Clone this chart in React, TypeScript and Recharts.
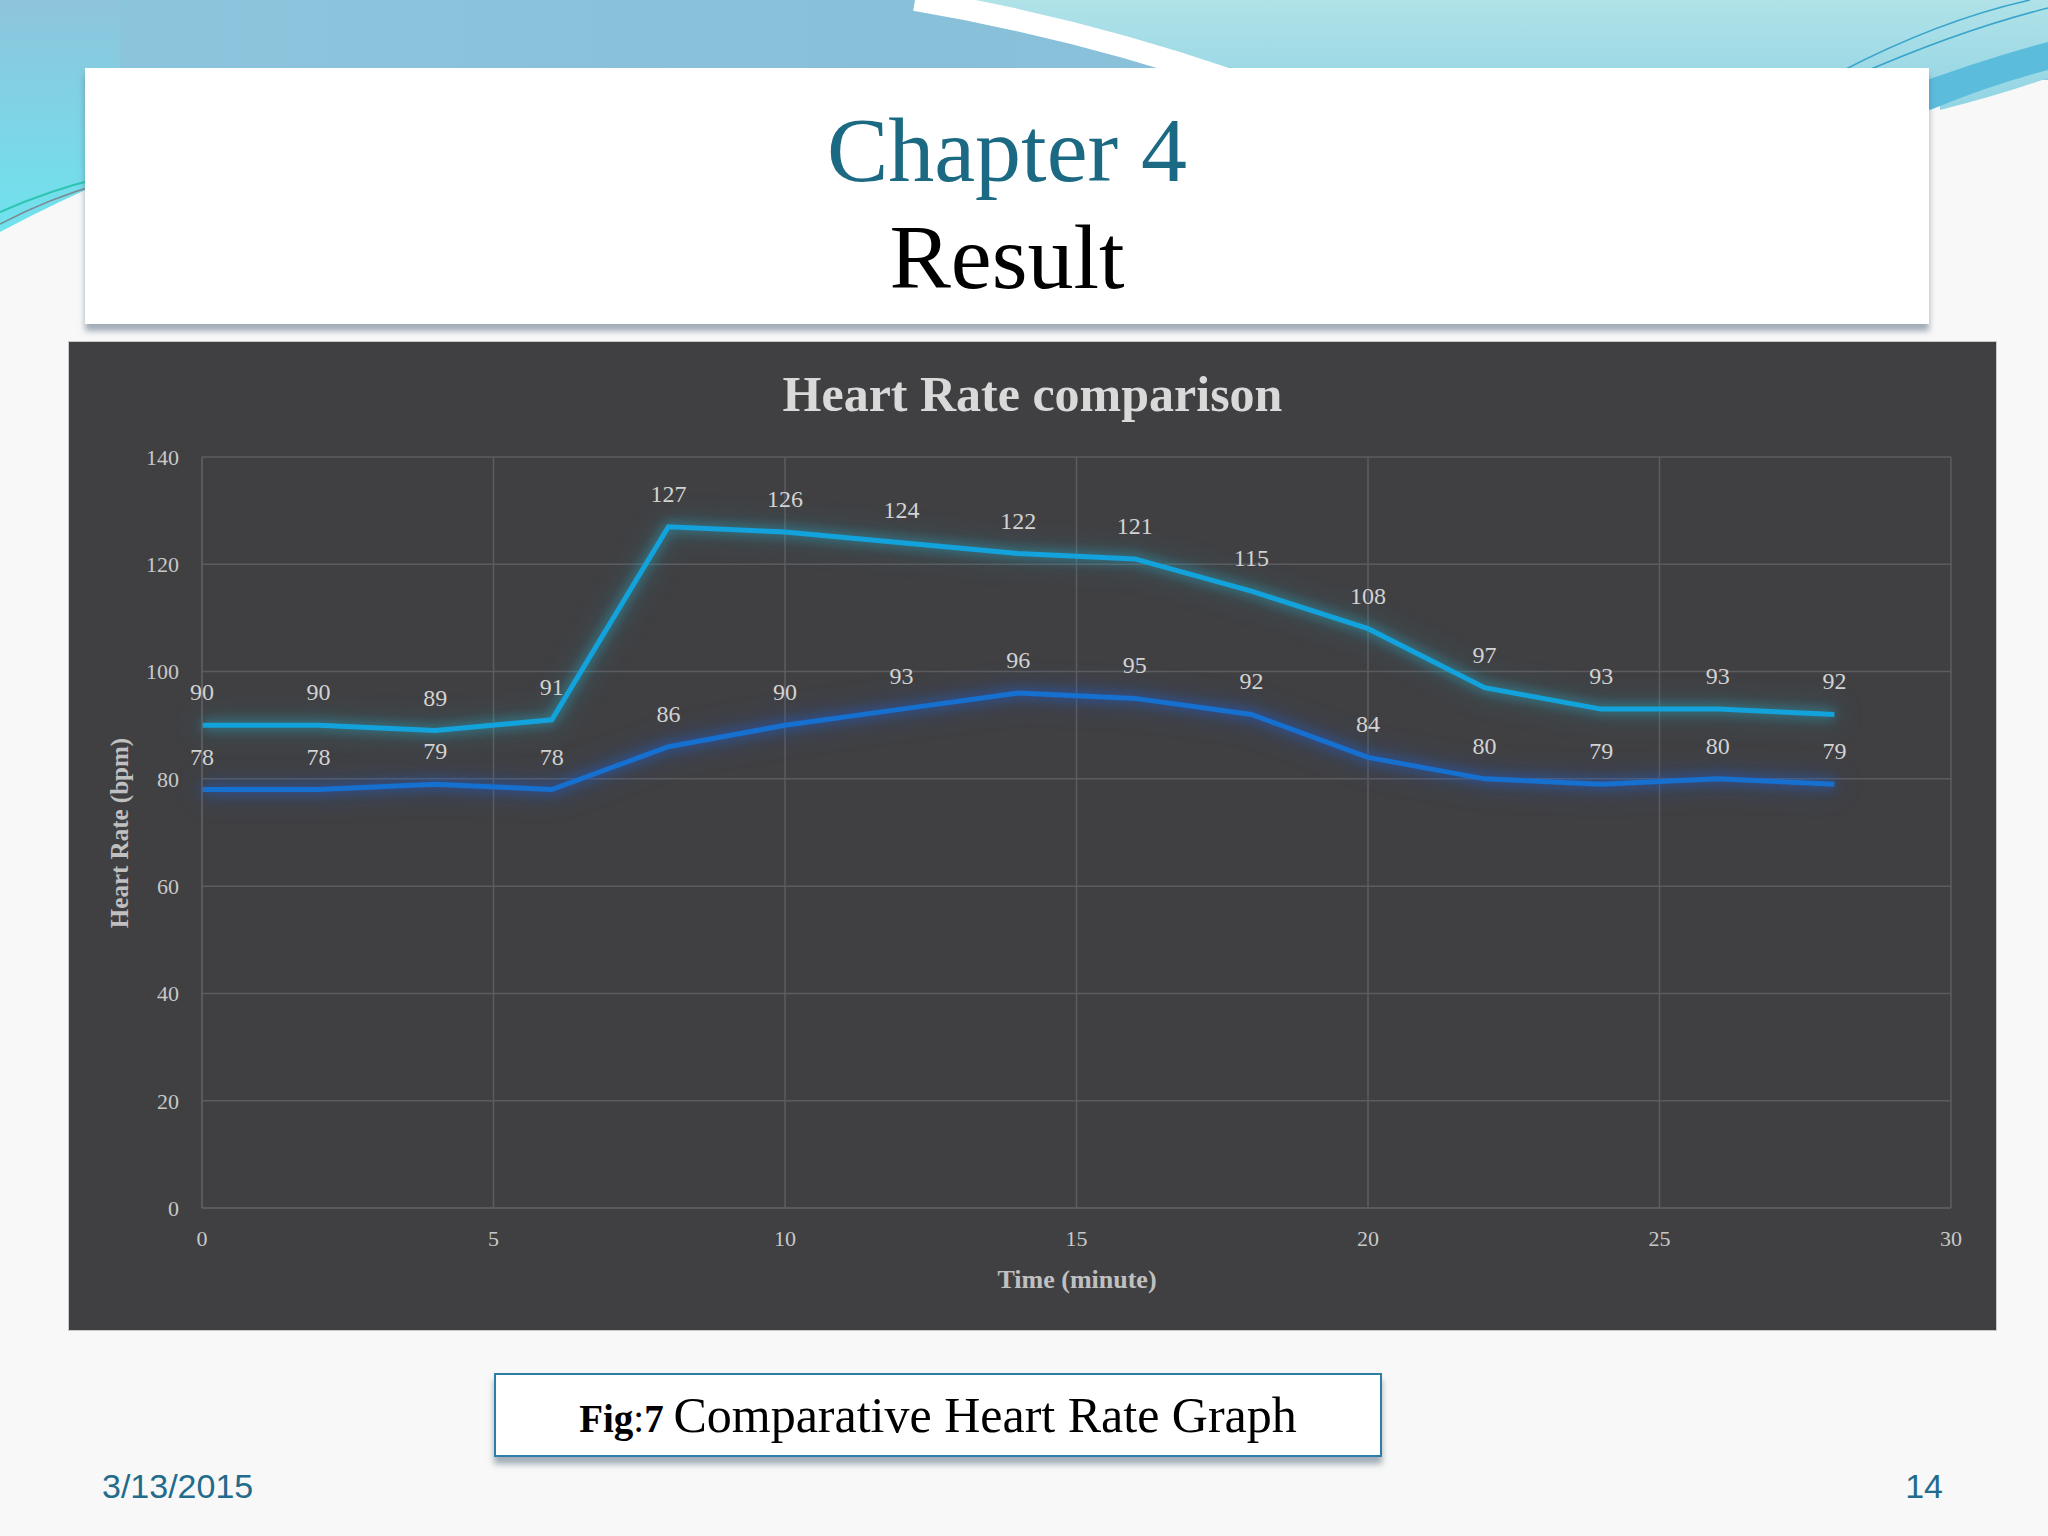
import React from 'react';
import { LineChart, Line, XAxis, YAxis, CartesianGrid, LabelList } from 'recharts';

const times = [0, 2, 4, 6, 8, 10, 12, 14, 16, 18, 20, 22, 24, 26, 28];
const seriesUpper = [90, 90, 89, 91, 127, 126, 124, 122, 121, 115, 108, 97, 93, 93, 92];
const seriesLower = [78, 78, 79, 78, 86, 90, 93, 96, 95, 92, 84, 80, 79, 80, 79];
const xTicks = [0, 5, 10, 15, 20, 25, 30];
const yTicks = [0, 20, 40, 60, 80, 100, 120, 140];

const data = times.map((t, i) => ({ t, upper: seriesUpper[i], lower: seriesLower[i] }));

const serif = '"Liberation Serif", "DejaVu Serif", serif';

export default function App() {
  return (
    <div style={{ position: 'absolute', left: 0, top: 0, width: 2048, height: 1536, background: '#f8f8f8', overflow: 'hidden', fontFamily: serif }}>
      <style>{`
        .glow-up .recharts-line-curve { filter: drop-shadow(0 0 6px rgba(40,175,205,0.8)) drop-shadow(0 0 12px rgba(40,150,170,0.5)); }
        .glow-low .recharts-line-curve { filter: drop-shadow(0 0 6px rgba(30,100,225,0.8)) drop-shadow(0 0 12px rgba(30,90,200,0.5)); }
      `}</style>
      <svg width={2048} height={1536} style={{ position: 'absolute', left: 0, top: 0 }}>
        <defs>
          <linearGradient id="bandL" x1="0" y1="0" x2="0" y2="1">
            <stop offset="0" stopColor="#8ec4dc" />
            <stop offset="1" stopColor="#6fe3ee" />
          </linearGradient>
          <linearGradient id="bandTop" x1="0" y1="0" x2="1" y2="0">
            <stop offset="0" stopColor="#8cc6dd" />
            <stop offset="0.45" stopColor="#88bfd9" />
            <stop offset="1" stopColor="#90c9df" />
          </linearGradient>
          <linearGradient id="bandR" x1="0" y1="0" x2="0" y2="1">
            <stop offset="0" stopColor="#b0e2e8" />
            <stop offset="1" stopColor="#92d4e4" />
          </linearGradient>
        </defs>
        <rect x={0} y={0} width={2048} height={80} fill="url(#bandTop)" />
        <path d="M0,0 L120,0 L120,175 Q60,200 0,232 Z" fill="url(#bandL)" />
        <path d="M930,0 Q1090,30 1240,80 L1940,80 L1940,110 Q2000,95 2048,78 L2048,0 Z" fill="url(#bandR)" />
        <path d="M1900,90 Q1980,60 2048,42 L2048,70 Q1990,85 1930,110 Z" fill="#5bbcdc" />
        <path d="M915,0 Q1080,28 1230,80" stroke="#ffffff" strokeWidth={22} fill="none" />
        <path d="M1840,72 Q1940,20 2030,0" stroke="#3aa5cc" strokeWidth={1.5} fill="none" />
        <path d="M1855,76 Q1960,30 2048,8" stroke="#3aa5cc" strokeWidth={1.5} fill="none" />
        <path d="M0,212 Q50,190 100,178" stroke="#2fc4b0" strokeWidth={2} fill="none" />
        <path d="M0,224 Q50,198 100,184" stroke="#7a8a90" strokeWidth={1.5} fill="none" />
      </svg>

      {/* Title box */}
      <div style={{ position: 'absolute', left: 85, top: 68, width: 1844, height: 256, background: '#ffffff', boxShadow: '0 7px 6px rgba(90,110,130,0.55)' }} />
      <div style={{ position: 'absolute', left: 85, top: 100, width: 1844, textAlign: 'center', fontFamily: serif, fontSize: 92, lineHeight: '100px', color: '#1b6982' }}>
        Chapter 4
      </div>
      <div style={{ position: 'absolute', left: 85, top: 207, width: 1844, textAlign: 'center', fontFamily: serif, fontSize: 92, lineHeight: '100px', color: '#000000' }}>
        Result
      </div>

      {/* Chart panel */}
      <div style={{ position: 'absolute', left: 69, top: 342, width: 1927, height: 988, background: '#404043', outline: '1px solid #c9c9c9' }}>
        <LineChart width={1927} height={988} data={data} margin={{ top: 115, right: 45, left: 63, bottom: 62 }}>
          <CartesianGrid stroke="#5c5c60" strokeWidth={1.5} horizontalValues={yTicks} verticalValues={xTicks} />
          <XAxis
            type="number"
            dataKey="t"
            domain={[0, 30]}
            ticks={xTicks}
            height={60}
            tickSize={0}
            tickMargin={22}
            axisLine={{ stroke: '#5c5c60', strokeWidth: 1.5 }}
            tick={{ fill: '#c8c8c8', fontSize: 22, fontFamily: serif }}
          />
          <YAxis
            type="number"
            domain={[0, 140]}
            ticks={yTicks}
            width={70}
            tickSize={0}
            tickMargin={23}
            axisLine={{ stroke: '#5c5c60', strokeWidth: 1.5 }}
            tick={{ fill: '#c8c8c8', fontSize: 22, fontFamily: serif }}
          />
          <Line className="glow-up" type="linear" dataKey="upper" stroke="#12a3dc" strokeWidth={5} dot={false} isAnimationActive={false}>
            <LabelList dataKey="upper" position="top" offset={25} fill="#d2d2d2" fontSize={24} fontFamily={serif} />
          </Line>
          <Line className="glow-low" type="linear" dataKey="lower" stroke="#1570cf" strokeWidth={5} dot={false} isAnimationActive={false}>
            <LabelList dataKey="lower" position="top" offset={25} fill="#d2d2d2" fontSize={24} fontFamily={serif} />
          </Line>
        </LineChart>
        <div style={{ position: 'absolute', left: 0, top: 22, width: 1927, textAlign: 'center', fontFamily: serif, fontWeight: 'bold', fontSize: 50, color: '#d9d9d9', lineHeight: '60px' }}>
          Heart Rate comparison
        </div>
        <div style={{ position: 'absolute', left: 51 - 150, top: 491 - 16, width: 300, height: 32, textAlign: 'center', fontFamily: serif, fontWeight: 'bold', fontSize: 25, color: '#c0c0c0', lineHeight: '32px', transform: 'rotate(-90deg)' }}>
          Heart Rate (bpm)
        </div>
        <div style={{ position: 'absolute', left: 1008 - 150, top: 938 - 16, width: 300, textAlign: 'center', fontFamily: serif, fontWeight: 'bold', fontSize: 26, color: '#c0c0c0', lineHeight: '32px' }}>
          Time (minute)
        </div>
      </div>

      {/* Caption */}
      <div style={{ position: 'absolute', left: 494, top: 1373, width: 884, height: 80, background: '#ffffff', border: '2px solid #2f7ea6', boxShadow: '0 7px 6px rgba(90,110,130,0.55)' }} />
      <div style={{ position: 'absolute', left: 494, top: 1385, width: 888, textAlign: 'center', fontFamily: serif, color: '#000', lineHeight: '60px', whiteSpace: 'nowrap' }}>
        <span style={{ fontSize: 39, fontWeight: 'bold' }}>Fig</span>
        <span style={{ fontSize: 39 }}>:</span>
        <span style={{ fontSize: 39, fontWeight: 'bold' }}>7 </span>
        <span style={{ fontSize: 50 }}>Comparative Heart Rate Graph</span>
      </div>

      {/* Footer */}
      <div style={{ position: 'absolute', left: 102, top: 1466, fontFamily: '"Liberation Sans", Arial, sans-serif', fontSize: 34, color: '#236b8c', lineHeight: '40px' }}>3/13/2015</div>
      <div style={{ position: 'absolute', left: 1843, width: 100, top: 1466, textAlign: 'right', fontFamily: '"Liberation Sans", Arial, sans-serif', fontSize: 34, color: '#236b8c', lineHeight: '40px' }}>14</div>
    </div>
  );
}
